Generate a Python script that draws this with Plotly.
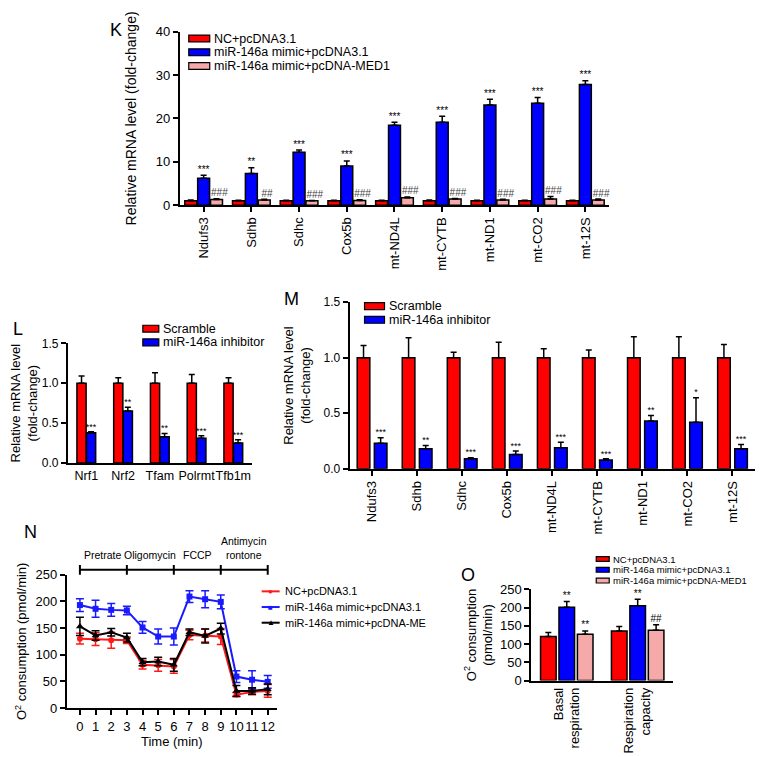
import plotly.graph_objects as go

W, H = 765, 757
FONT = "Liberation Sans, Arial, sans-serif"
RED = "#ff0000"
BLUE = "#0000ff"
PINK = "#f6a9a9"

# ---- panel K data ----
k_genes = ["Ndufs3", "Sdhb", "Sdhc", "Cox5b", "mt-ND4L", "mt-CYTB", "mt-ND1", "mt-CO2", "mt-12S"]
k_nc = [1.0, 1.0, 1.0, 1.0, 1.0, 1.0, 1.0, 1.0, 1.0]
k_nc_err = [0.2, 0.15, 0.15, 0.15, 0.15, 0.2, 0.15, 0.15, 0.15]
k_mimic = [6.2, 7.3, 12.2, 9.0, 18.4, 19.1, 23.1, 23.5, 27.8]
k_mimic_err = [0.7, 1.3, 0.5, 1.2, 0.7, 1.4, 1.3, 1.3, 0.9]
k_med1 = [1.3, 1.2, 1.0, 1.1, 1.7, 1.4, 1.2, 1.4, 1.2]
k_med1_err = [0.2, 0.15, 0.1, 0.15, 0.2, 0.15, 0.15, 0.6, 0.2]
k_sig_mimic = ["***", "**", "***", "***", "***", "***", "***", "***", "***"]
k_sig_med1 = ["###", "##", "###", "###", "###", "###", "###", "###", "###"]
k_names = ["NC+pcDNA3.1", "miR-146a mimic+pcDNA3.1", "miR-146a mimic+pcDNA-MED1"]

# ---- panel L data ----
l_genes = ["Nrf1", "Nrf2", "Tfam", "Polrmt", "Tfb1m"]
l_scr = [1.0, 1.0, 1.0, 1.0, 1.0]
l_scr_err = [0.09, 0.07, 0.13, 0.11, 0.07]
l_inh = [0.38, 0.65, 0.33, 0.31, 0.25]
l_inh_err = [0.01, 0.05, 0.04, 0.03, 0.04]
l_sig = ["***", "**", "**", "***", "***"]
l_names = ["Scramble", "miR-146a inhibitor"]

# ---- panel M data ----
m_genes = ["Ndufs3", "Sdhb", "Sdhc", "Cox5b", "mt-ND4L", "mt-CYTB", "mt-ND1", "mt-CO2", "mt-12S"]
m_scr = [1.0, 1.0, 1.0, 1.0, 1.0, 1.0, 1.0, 1.0, 1.0]
m_scr_err = [0.11, 0.18, 0.05, 0.14, 0.08, 0.07, 0.19, 0.19, 0.12]
m_inh = [0.23, 0.18, 0.09, 0.13, 0.19, 0.08, 0.43, 0.42, 0.18]
m_inh_err = [0.05, 0.03, 0.01, 0.03, 0.05, 0.01, 0.05, 0.22, 0.04]
m_sig = ["***", "**", "***", "***", "***", "***", "**", "*", "***"]

# ---- panel N data ----
n_time = [0, 1, 2, 3, 4, 5, 6, 7, 8, 9, 10, 11, 12]
n_nc = [130, 129, 127, 127, 81, 80, 78, 137, 136, 134, 25, 30, 32]
n_nc_err = [10, 12, 15, 6, 8, 11, 13, 9, 12, 15, 4, 5, 12]
n_mimic = [193, 186, 184, 183, 151, 134, 134, 209, 204, 199, 59, 53, 49]
n_mimic_err = [12, 16, 12, 8, 11, 14, 16, 11, 16, 13, 11, 17, 12]
n_med1 = [153, 136, 142, 132, 86, 87, 81, 142, 135, 149, 32, 32, 35]
n_med1_err = [17, 9, 7, 8, 7, 8, 12, 6, 13, 10, 10, 6, 10]
n_names = ["NC+pcDNA3.1", "miR-146a mimic+pcDNA3.1", "miR-146a mimic+pcDNA-ME"]
phase_edges = [0, 3, 6, 9, 12]
phase_names = ["Pretrate", "Oligomycin", "FCCP", "Antimycin<br>rontone"]

# ---- panel O data ----
o_groups = ["Basal<br>respiration", "Respiration<br>capacity"]
o_nc = [121, 136]
o_nc_err = [11, 12]
o_mimic = [201, 205]
o_mimic_err = [16, 18]
o_med1 = [127, 138]
o_med1_err = [9, 15]
o_sig_mimic = ["**", "**"]
o_sig_med1 = ["**", "##"]


def fx(px):
    return px / W


def fy(py):
    return 1 - py / H


fig = go.Figure()


def add_bars(vals, errs, offset, width, color, xa, ya):
    xs = [i + offset for i in range(len(vals))]
    fig.add_trace(go.Bar(
        x=xs, y=vals, width=width, xaxis=xa, yaxis=ya,
        marker=dict(color=color, line=dict(color="black", width=1.5)),
        error_y=dict(type="data", array=errs, arrayminus=[0] * len(errs),
                     color="black", thickness=1.5, width=3),
        showlegend=False, hoverinfo="skip"))


def add_sig(vals, errs, sig, offset, xa, ya, size=10, color="black"):
    xs = [i + offset for i in range(len(vals))]
    ys = [v + e for v, e in zip(vals, errs)]
    fig.add_trace(go.Scatter(
        x=xs, y=ys, text=sig, mode="text", textposition="top center",
        textfont=dict(size=size, color=color, family=FONT),
        xaxis=xa, yaxis=ya, showlegend=False, hoverinfo="skip", cliponaxis=False))


def label(x, y, text, size, xanchor="left", color="black"):
    fig.add_annotation(xref="paper", yref="paper", x=fx(x), y=fy(y), text=text,
                       xanchor=xanchor, yanchor="middle", showarrow=False,
                       font=dict(size=size, family=FONT, color=color))


def box_legend(x, y, names, colors, size, dy, sw, sh):
    # x, y in pixels: left edge of swatch, centre of first row
    for i, (name, c) in enumerate(zip(names, colors)):
        yc = y + i * dy
        fig.add_shape(type="rect", xref="paper", yref="paper",
                      x0=fx(x), x1=fx(x + sw), y0=fy(yc + sh / 2), y1=fy(yc - sh / 2),
                      fillcolor=c, line=dict(color="black", width=1.2))
        label(x + sw + 2, yc, name, size)


def line_legend(x, y, names, colors, glyphs, size, dy):
    for i, (name, c, g) in enumerate(zip(names, colors, glyphs)):
        yc = y + i * dy
        fig.add_shape(type="line", xref="paper", yref="paper",
                      x0=fx(x), x1=fx(x + 18), y0=fy(yc), y1=fy(yc),
                      line=dict(color=c, width=2))
        label(x + 9, yc, g, 8, xanchor="center", color=c)
        label(x + 21, yc, name, size)


# K
add_bars(k_nc, k_nc_err, -0.27, 0.25, RED, "x", "y")
add_bars(k_mimic, k_mimic_err, 0.0, 0.25, BLUE, "x", "y")
add_bars(k_med1, k_med1_err, 0.27, 0.25, PINK, "x", "y")
add_sig(k_mimic, k_mimic_err, k_sig_mimic, 0.0, "x", "y")
add_sig(k_med1, k_med1_err, k_sig_med1, 0.33, "x", "y", color="#444")

# L
add_bars(l_scr, l_scr_err, -0.13, 0.25, RED, "x2", "y2")
add_bars(l_inh, l_inh_err, 0.13, 0.25, BLUE, "x2", "y2")
add_sig(l_inh, l_inh_err, l_sig, 0.13, "x2", "y2", size=9)

# M
add_bars(m_scr, m_scr_err, -0.19, 0.28, RED, "x3", "y3")
add_bars(m_inh, m_inh_err, 0.19, 0.28, BLUE, "x3", "y3")
add_sig(m_inh, m_inh_err, m_sig, 0.19, "x3", "y3", size=9)

# N
n_colors = ["#ff1a1a", "#1a1aff", "black"]
for vals, errs, name, color, sym, msize in [
        (n_nc, n_nc_err, n_names[0], n_colors[0], "circle", 6),
        (n_mimic, n_mimic_err, n_names[1], n_colors[1], "square", 6),
        (n_med1, n_med1_err, n_names[2], n_colors[2], "triangle-up", 7)]:
    fig.add_trace(go.Scatter(
        x=n_time, y=vals, name=name, mode="lines+markers", xaxis="x4", yaxis="y4",
        line=dict(color=color, width=2),
        marker=dict(symbol=sym, size=msize, color=color),
        error_y=dict(type="data", array=errs, color=color, thickness=1.5, width=4),
        showlegend=False, cliponaxis=False))

# O
add_bars(o_nc, o_nc_err, -0.26, 0.22, RED, "x5", "y5")
add_bars(o_mimic, o_mimic_err, 0.0, 0.22, BLUE, "x5", "y5")
add_bars(o_med1, o_med1_err, 0.26, 0.22, PINK, "x5", "y5")
add_sig(o_mimic, o_mimic_err, o_sig_mimic, 0.0, "x5", "y5")
add_sig(o_med1, o_med1_err, o_sig_med1, 0.26, "x5", "y5")

axis_style = dict(showline=True, linecolor="black", linewidth=2, showgrid=False,
                  zeroline=False, ticks="outside", ticklen=5, tickwidth=2, tickcolor="black",
                  tickfont=dict(size=13, family=FONT, color="black"))
title_font = dict(size=13, family=FONT, color="black")

fig.update_layout(
    width=W, height=H, margin=dict(l=0, r=0, t=0, b=0),
    paper_bgcolor="white", plot_bgcolor="white", barmode="overlay", showlegend=False,
    font=dict(family=FONT, color="black"),
    xaxis=dict(axis_style, domain=[fx(171), fx(601)], anchor="y", range=[-0.5, 8.5],
               tickvals=list(range(len(k_genes))), ticktext=k_genes, tickangle=-90),
    yaxis=dict(axis_style, domain=[fy(194), fy(17)], anchor="x", range=[0, 40], dtick=10,
               title=dict(text="Relative mRNA level (fold-change)",
                          font=dict(title_font, size=14), standoff=16)),
    xaxis2=dict(axis_style, domain=[fx(59), fx(243)], anchor="y2", range=[-0.5, 4.5],
                tickvals=list(range(len(l_genes))), ticktext=l_genes, ticks="", tickangle=0,
                tickfont=dict(size=12.5, family=FONT, color="black")),
    yaxis2=dict(axis_style, domain=[fy(457), fy(335)], anchor="x2", range=[0, 1.5], dtick=0.5,
                tickformat=".1f", tickfont=dict(size=12, family=FONT, color="black"),
                title=dict(text="Relative mRNA level<br>(fold-change)", font=title_font, standoff=8)),
    xaxis3=dict(axis_style, domain=[fx(341), fx(747)], anchor="y3", range=[-0.5, 8.5],
                tickvals=list(range(len(m_genes))), ticktext=m_genes, tickangle=-90),
    yaxis3=dict(axis_style, domain=[fy(463), fy(293)], anchor="x3", range=[0, 1.5], dtick=0.5,
                tickformat=".1f", tickfont=dict(size=12, family=FONT, color="black"),
                title=dict(text="Relative mRNA level<br>(fold-change)", font=title_font, standoff=10)),
    xaxis4=dict(axis_style, domain=[fx(58), fx(268)], anchor="y4", range=[-0.83, 12.57],
                dtick=1, tick0=0, tickangle=0,
                title=dict(text="Time (min)", font=title_font, standoff=0)),
    yaxis4=dict(axis_style, domain=[fy(707), fy(571)], anchor="x4", range=[0, 250], dtick=50,
                title=dict(text="O<sup>2</sup> consumption (pmol/min)", font=title_font, standoff=6)),
    xaxis5=dict(axis_style, domain=[fx(523), fx(665)], anchor="y5", range=[-0.5, 1.5],
                tickvals=list(range(len(o_groups))), ticktext=o_groups, tickangle=-90, ticks=""),
    yaxis5=dict(axis_style, domain=[fy(679), fy(586)], anchor="x5", range=[0, 250], dtick=50,
                title=dict(text="O<sup>2</sup> consumption<br>(pmol/min)", font=title_font, standoff=4)),
)

# legends
box_legend(180, 24, k_names, [RED, BLUE, PINK], 12.5, 14, 21, 7)
box_legend(134, 320, l_names, [RED, BLUE], 12.5, 14, 16, 7)
box_legend(356, 297, l_names, [RED, BLUE], 12.5, 14, 20, 7)
box_legend(588, 555, k_names, [RED, BLUE, PINK], 9.5, 11, 13, 5)
line_legend(253, 588, n_names, n_colors, ["\u25cf", "\u25a0", "\u25b2"], 11, 16)

# N phase bracket
ybr = fy(566)
fig.add_shape(type="line", xref="x4", yref="paper", x0=phase_edges[0], x1=phase_edges[-1],
              y0=ybr, y1=ybr, line=dict(color="black", width=2))
for e in phase_edges:
    fig.add_shape(type="line", xref="x4", yref="paper", x0=e, x1=e,
                  y0=fy(571), y1=fy(561), line=dict(color="black", width=2))
for a, b, name in zip(phase_edges[:-1], phase_edges[1:], phase_names):
    fig.add_annotation(xref="x4", yref="paper", x=(a + b) / 2, y=fy(559), text=name,
                       xanchor="center", yanchor="bottom", showarrow=False,
                       font=dict(size=10.5, family=FONT, color="black"))

# panel letters
for letter, px, py in [("K", 107, 15), ("L", 9, 320), ("M", 283, 290), ("N", 22, 527), ("O", 460, 571)]:
    label(px, py, letter, 18, xanchor="center")

fig.write_html("out.html")
